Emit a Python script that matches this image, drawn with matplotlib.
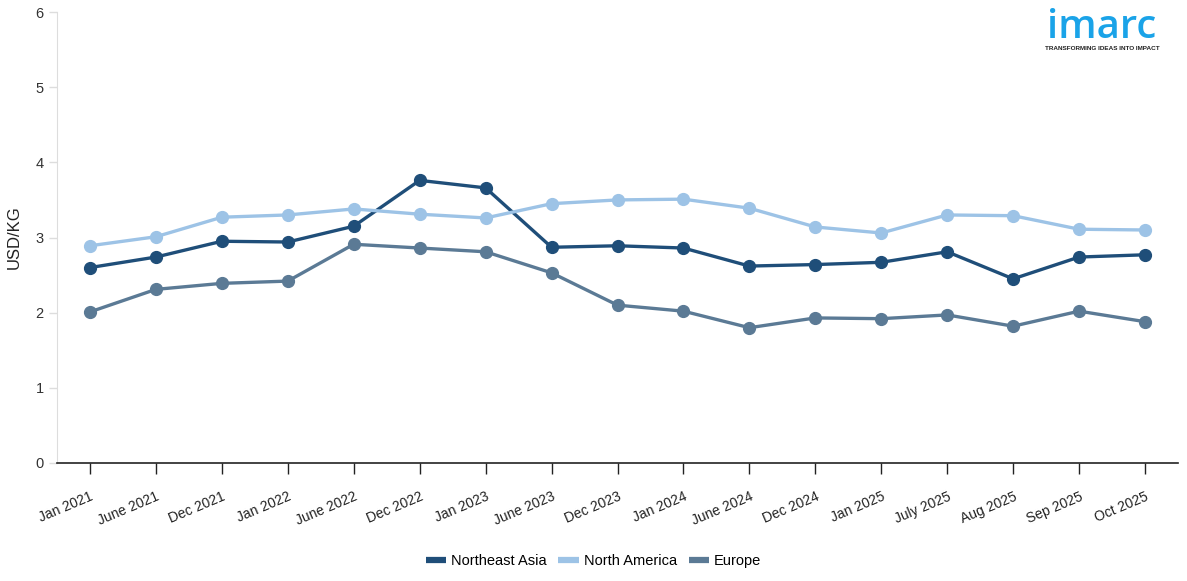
import matplotlib
matplotlib.use("Agg")
import matplotlib.pyplot as plt

plt.rcParams['font.family'] = ['Liberation Sans', 'DejaVu Sans']

categories = ["Jan 2021", "June 2021", "Dec 2021", "Jan 2022", "June 2022", "Dec 2022",
              "Jan 2023", "June 2023", "Dec 2023", "Jan 2024", "June 2024", "Dec 2024",
              "Jan 2025", "July 2025", "Aug 2025", "Sep 2025", "Oct 2025"]
northeast_asia = [2.60, 2.74, 2.95, 2.94, 3.15, 3.76, 3.66, 2.87, 2.89, 2.86, 2.62, 2.64,
                  2.67, 2.81, 2.45, 2.74, 2.77]
north_america = [2.89, 3.01, 3.27, 3.30, 3.38, 3.31, 3.26, 3.45, 3.50, 3.51, 3.39, 3.14,
                 3.06, 3.30, 3.29, 3.11, 3.10]
europe = [2.01, 2.31, 2.39, 2.42, 2.91, 2.86, 2.81, 2.53, 2.10, 2.02, 1.80, 1.93,
          1.92, 1.97, 1.82, 2.02, 1.88]
series_names = ["Northeast Asia", "North America", "Europe"]
colors = ["#1f4e79", "#9dc3e6", "#5b7a95"]

fig = plt.figure(figsize=(11.87, 5.81), dpi=100)
ax = fig.add_axes([57/1187, 1-463/581, (1178-57)/1187, (463-12)/581])

x = list(range(len(categories)))
for vals, name, c in zip([northeast_asia, north_america, europe], series_names, colors):
    ax.plot(x, vals, color=c, lw=2.4, marker='o', ms=8.5, label=name)

ax.set_xlim(-0.5, len(categories) - 0.5)
ax.set_ylim(0, 6)
ax.set_xticks(x)
ax.set_xticklabels(categories, rotation=23, ha='right', va='top', rotation_mode='anchor', fontsize=10)
ax.set_yticks(range(7))
ax.tick_params(axis='y', colors='#dddddd', labelcolor='#333333', labelsize=10.5, length=6, width=1)
ax.tick_params(axis='x', colors='#222222', labelcolor='#222222', length=8, width=1, pad=11)
for s in ['top', 'right']:
    ax.spines[s].set_visible(False)
ax.spines['left'].set_color('#dddddd')
ax.spines['bottom'].set_color('#222222')
ax.spines['bottom'].set_linewidth(1.2)
ax.set_ylabel("USD/KG", fontsize=12, color='#222222', labelpad=10)

leg = fig.legend(loc='center', bbox_to_anchor=(0.5, 1-561/581), ncol=3, frameon=False,
                 fontsize=10.5, handlelength=1.4, handletextpad=0.35, columnspacing=0.8,
                 markerscale=0)
for h in leg.legend_handles:
    h.set_linewidth(4.5)
    h.set_marker('')
    h.set_solid_capstyle('butt')

fig.text(1102/1187, 1-38/581, "imarc", color="#1aa3e8", fontsize=29, ha='center', va='baseline',
         family=['Open Sans', 'DejaVu Sans'], fontweight='semibold')
fig.text(1102/1187, 1-48.5/581, "TRANSFORMING IDEAS INTO IMPACT", color="#222222", fontsize=4.6,
         ha='center', va='center', fontweight='bold')

fig.savefig("out.png", dpi=100)
